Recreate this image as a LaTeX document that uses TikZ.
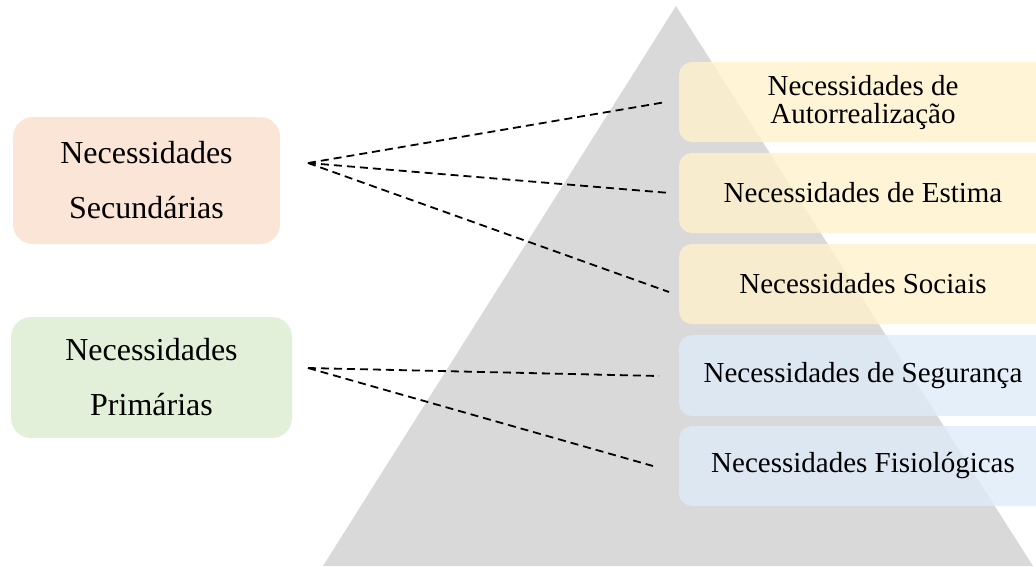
\documentclass[tikz,border=0pt]{standalone}
\usepackage{fontspec}
\setmainfont{Liberation Serif}
\begin{document}
\begin{tikzpicture}[x=1pt,y=-1pt,
  leftbox/.style={align=center, font=\fontsize{32}{55}\selectfont, inner sep=0pt},
  rightbox/.style={align=center, font=\fontsize{29}{28}\selectfont, inner sep=0pt},
  conn/.style={draw=black, line width=1.8pt, dash pattern=on 8pt off 5pt}]
\useasboundingbox (0,0) rectangle (1036,566);
\clip (0,0) rectangle (1036,566);
\fill[fill={rgb,255:red,217;green,217;blue,217}] (676,6) -- (323,566) -- (1033,566) -- cycle;
\definecolor{peach}{RGB}{251,229,214}
\definecolor{lgreen}{RGB}{226,240,217}
\definecolor{lyellow}{RGB}{255,242,204}
\definecolor{lblue}{RGB}{222,235,247}
\tikzset{lfill/.style={rounded corners=20pt}, rfill/.style={rounded corners=13pt, fill opacity=0.8}}
% left boxes
\fill[peach, lfill] (13,117) rectangle (280,244);
\node[leftbox] (sec) at (146.5,180.5) {Necessidades\\Secundárias};
\fill[lgreen, lfill] (11,317) rectangle (292,438);
\node[leftbox] (pri) at (151.5,377.5) {Necessidades\\Primárias};
% right boxes
\fill[lyellow, rfill] (679,62) rectangle (1050,142);
\node[rightbox] (auto) at (863,103) {Necessidades de\\Autorrealização};
\fill[lyellow, rfill] (679,153) rectangle (1050,233);
\node[rightbox] (est) at (863,193) {Necessidades de Estima};
\fill[lyellow, rfill] (679,244) rectangle (1050,324);
\node[rightbox] (soc) at (863,284) {Necessidades Sociais};
\fill[lblue, rfill] (679,335) rectangle (1050,416);
\node[rightbox] (seg) at (863,375.5) {Necessidades de Segurança};
\fill[lblue, rfill] (679,426) rectangle (1050,506);
\node[rightbox] (fis) at (863,466) {Necessidades Fisiológicas};
% connector coordinates
\coordinate (s1) at (308,163);
\coordinate (s2) at (308,368);
\coordinate (e1) at (666,102);
\coordinate (e2) at (670,193);
\coordinate (e3) at (669,292);
\coordinate (e4) at (659,376);
\coordinate (e5) at (653,466);
\draw[conn] (s1) -- (e1);
\draw[conn] (s1) -- (e2);
\draw[conn] (s1) -- (e3);
\draw[conn] (s2) -- (e4);
\draw[conn] (s2) -- (e5);
\end{tikzpicture}
\end{document}
